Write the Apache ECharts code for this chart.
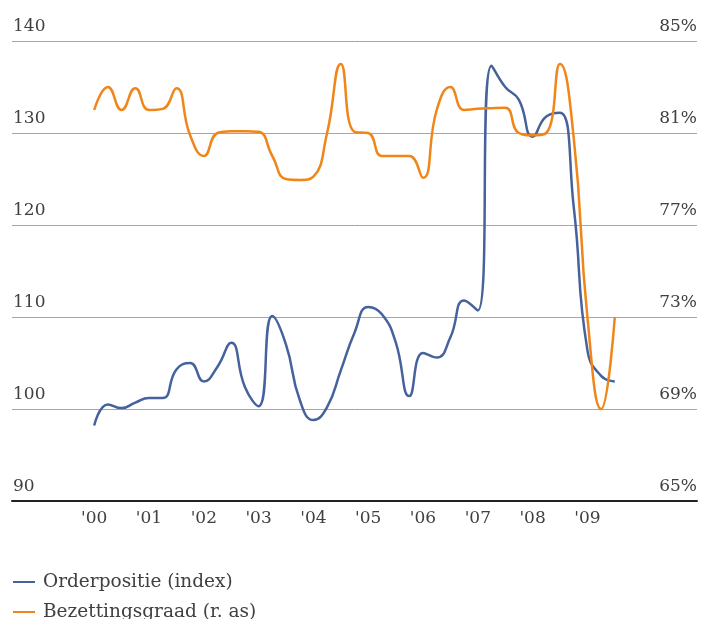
<!DOCTYPE html>
<html>
<head>
<meta charset="utf-8">
<script src="https://cdn.jsdelivr.net/npm/echarts@6/dist/echarts.min.js"></script>
<style>
html,body{margin:0;padding:0;background:#fff;}
#chart{width:712px;height:619px;}
</style>
</head>
<body>
<div id="chart"></div>
<script>
// Quarterly periods (decimal years)
const periods = [
  2000.00, 2000.25, 2000.50, 2000.75,
  2001.00, 2001.25, 2001.50, 2001.75,
  2002.00, 2002.25, 2002.50, 2002.75,
  2003.00, 2003.25, 2003.50, 2003.75,
  2004.00, 2004.25, 2004.50, 2004.75,
  2005.00, 2005.25, 2005.50, 2005.75,
  2006.00, 2006.25, 2006.50, 2006.75,
  2007.00, 2007.25, 2007.50, 2007.75,
  2008.00, 2008.25, 2008.50, 2008.75,
  2009.00, 2009.25, 2009.50
];
// Orderpositie (index), left axis
const orderpositie = [
  98.2, 100.5, 100.1, 100.7,
  101.2, 101.2, 104.3, 105.0,
  103.0, 104.6, 107.2, 102.4,
  100.3, 110.1, 107.0, 101.0,
  98.8, 100.2, 104.2, 108.3,
  111.1, 110.3, 107.3, 101.4,
  106.1, 105.6, 107.8, 111.8,
  110.7, 137.3, 135.0, 133.6,
  129.6, 131.8, 132.2, 122.0,
  106.4, 103.6, 103.0
];
// Bezettingsgraad (%), right axis
const bezettingsgraad = [
  82.0, 83.0, 82.0, 82.95,
  82.0, 82.05, 82.95, 80.9,
  80.0, 81.0, 81.08, 81.08,
  81.05, 80.0, 79.0, 78.96,
  79.1, 81.0, 84.0, 81.05,
  81.0, 80.0, 80.0, 80.0,
  79.05, 82.0, 83.0, 82.0,
  82.05, 82.08, 82.1, 81.0,
  80.9, 81.0, 84.0, 80.8,
  73.0, 69.0, 73.0
];
const yearTicks = [2000, 2001, 2002, 2003, 2004, 2005, 2006, 2007, 2008, 2009];
const yearLabels = ["'00", "'01", "'02", "'03", "'04", "'05", "'06", "'07", "'08", "'09"];
const seriesNames = ['Orderpositie (index)', 'Bezettingsgraad (r. as)'];

const FONT = 'DejaVu Serif';
const TEXT = '#404040';
const BLUE = '#46629c';
const ORANGE = '#f0861a';

const chart = echarts.init(document.getElementById('chart'), null, {renderer: 'canvas'});
const option = {
  animation: false,
  backgroundColor: '#ffffff',
  grid: {left: 12, right: 15, top: 41, bottom: 118, containLabel: false},
  xAxis: {
    type: 'value',
    min: 1998.5,
    max: 2011,
    interval: 0.5,
    axisLine: {show: true, onZero: false, lineStyle: {color: '#222222', width: 2}},
    axisTick: {show: false},
    splitLine: {show: false},
    axisLabel: {
      margin: 9,
      color: TEXT,
      fontFamily: FONT,
      fontSize: 17,
      showMinLabel: true,
      showMaxLabel: true,
      formatter: function (v) {
        const i = yearTicks.indexOf(v);
        return i >= 0 ? yearLabels[i] : '';
      }
    }
  },
  yAxis: [
    {
      type: 'value',
      position: 'left',
      min: 90, max: 140, interval: 10,
      axisLine: {show: false},
      axisTick: {show: false},
      splitLine: {show: true, lineStyle: {color: '#a6a6a6', width: 1}},
      axisLabel: {
        inside: true, margin: 1, verticalAlign: 'bottom',
        padding: [0, 0, 6, 0],
        color: TEXT, fontFamily: FONT, fontSize: 17
      }
    },
    {
      type: 'value',
      position: 'right',
      min: 65, max: 85, interval: 4,
      axisLine: {show: false},
      axisTick: {show: false},
      splitLine: {show: false},
      axisLabel: {
        inside: true, margin: 0, verticalAlign: 'bottom',
        padding: [0, 0, 6, 0],
        color: TEXT, fontFamily: FONT, fontSize: 17,
        formatter: '{value}%'
      }
    }
  ],
  legend: {
    orient: 'vertical',
    left: 13,
    top: 567,
    height: 80,
    padding: 0,
    itemWidth: 22,
    itemHeight: 2,
    itemGap: 0,
    icon: 'rect',
    textStyle: {
      color: TEXT, fontFamily: FONT, fontSize: 18.5, lineHeight: 20,
      padding: [0, 0, 10, 3]
    },
    data: seriesNames
  },
  series: [
    {
      name: seriesNames[0],
      type: 'line',
      yAxisIndex: 0,
      smooth: 0.5,
      showSymbol: false,
      symbol: 'none',
      lineStyle: {color: BLUE, width: 2.5},
      itemStyle: {color: BLUE},
      data: periods.map((p, i) => [p, orderpositie[i]])
    },
    {
      name: seriesNames[1],
      type: 'line',
      yAxisIndex: 1,
      smooth: 0.5,
      showSymbol: false,
      symbol: 'none',
      lineStyle: {color: ORANGE, width: 2.5},
      itemStyle: {color: ORANGE},
      data: periods.map((p, i) => [p, bezettingsgraad[i]])
    }
  ]
};
chart.setOption(option);
</script>
</body>
</html>
